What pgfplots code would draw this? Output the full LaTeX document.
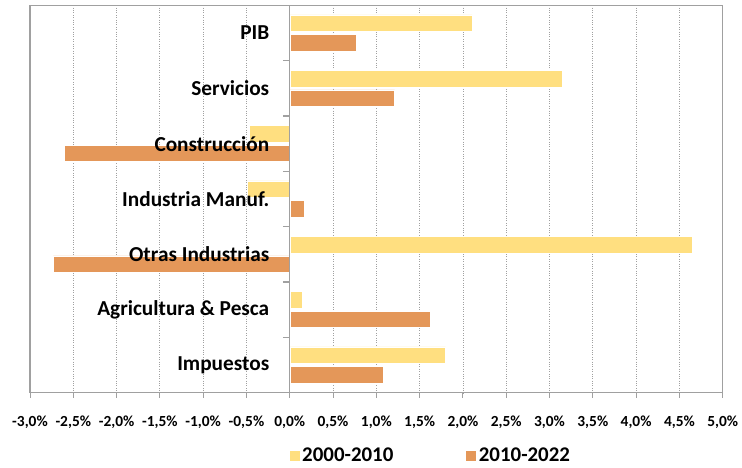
\documentclass[border=0pt]{standalone}
\usepackage{pgfplots}
\pgfplotsset{compat=1.18}
\usepackage{fontspec}
\setmainfont{Carlito}
\definecolor{cyel}{RGB}{255,223,128}
\definecolor{cora}{RGB}{228,151,89}
\definecolor{axgray}{RGB}{160,160,160}
\newcommand{\tf}{\fontsize{15.4bp}{18bp}\selectfont\bfseries}
\begin{document}
\begin{tikzpicture}
\useasboundingbox (0,0) rectangle (742bp,468bp);
\begin{axis}[
  at={(30bp,75.3bp)}, anchor=south west,
  scale only axis, width=692.7bp, height=387.4bp,
  xmin=-3, xmax=5, ymin=-0.5, ymax=6.5, y dir=reverse,
  xbar, bar width=16.5bp,
  xtick={-3,-2.5,-2,-1.5,-1,-0.5,0,0.5,1,1.5,2,2.5,3,3.5,4,4.5,5},
  xticklabels={{\tf -3,0\%},{\tf -2,5\%},{\tf -2,0\%},{\tf -1,5\%},{\tf -1,0\%},{\tf -0,5\%},{\tf 0,0\%},{\tf 0,5\%},{\tf 1,0\%},{\tf 1,5\%},{\tf 2,0\%},{\tf 2,5\%},{\tf 3,0\%},{\tf 3,5\%},{\tf 4,0\%},{\tf 4,5\%},{\tf 5,0\%}},
  ytick=\empty,
  xtick pos=left,
  tick align=outside,
  major tick length=5bp,
  xmajorgrids, grid style={axgray, dotted, line width=0.8bp},
  axis line style={axgray, line width=1.2bp},
  tick style={axgray, line width=1bp},
  every x tick label/.append style={font=\tf, yshift=-15bp},
  legend style={at={(0.578,-0.163)}, anchor=center, draw=none, fill=none,
    font=\fontsize{20.9bp}{24bp}\selectfont\bfseries,
    /tikz/every even column/.append style={column sep=70bp}},
  legend columns=2,
  legend image code/.code={\fill[#1] (0bp,-5.5bp) rectangle (11bp,5.5bp);},
]
\addplot[fill=cyel, draw=white, line width=0.5bp, bar shift=9.8bp] coordinates {(2.11,0) (3.15,1) (-0.47,2) (-0.49,3) (4.65,4) (0.14,5) (1.80,6)};
\addplot[fill=cora, draw=white, line width=0.5bp, bar shift=-9.8bp] coordinates {(0.77,0) (1.21,1) (-2.60,2) (0.17,3) (-2.73,4) (1.62,5) (1.08,6)};
\legend{2000-2010,2010-2022}
\end{axis}
\begin{axis}[
  at={(30bp,75.3bp)}, anchor=south west,
  scale only axis, width=692.7bp, height=387.4bp,
  xmin=-3, xmax=5, ymin=-0.5, ymax=6.5, y dir=reverse,
  axis x line=none, axis y line=center,
  axis line style={-, axgray, line width=1.2bp},
  ytick={0,1,2,3,4,5,6},
  yticklabels={PIB,Servicios,Construcción,Industria Manuf.,Otras Industrias,Agricultura \& Pesca,Impuestos},
  major tick length=0pt,
  minor ytick={-0.5,0.5,1.5,2.5,3.5,4.5,5.5,6.5},
  minor tick length=7bp,
  tick align=outside,
  tick style={axgray, line width=1.2bp},
  yticklabel style={font=\fontsize{21.3bp}{25bp}\selectfont\bfseries, anchor=east, xshift=-17bp},
]
\end{axis}
\end{tikzpicture}
\end{document}
